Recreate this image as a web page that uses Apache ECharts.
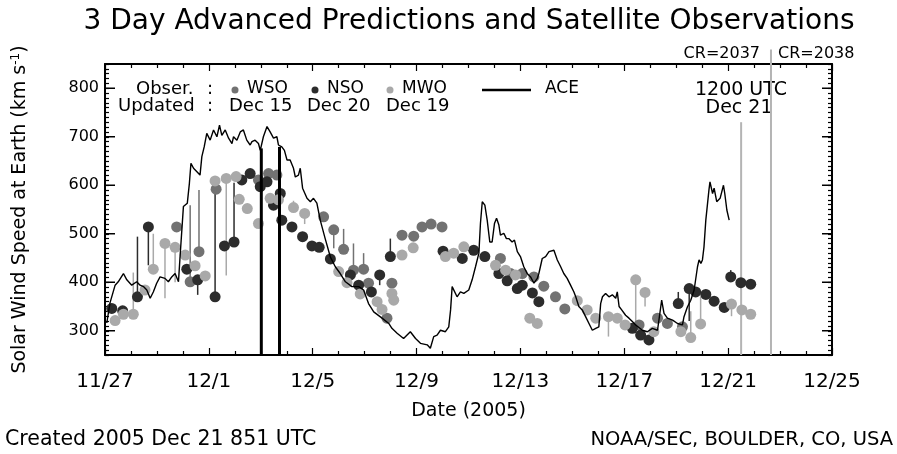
<!DOCTYPE html>
<html>
<head>
<meta charset="utf-8">
<script src="https://cdn.jsdelivr.net/npm/echarts@6/dist/echarts.min.js"></script>
<style>
  html, body { margin: 0; padding: 0; background: #fff; }
  #chart { width: 897px; height: 454px; }
</style>
</head>
<body>
<div id="chart"></div>
<script>
// Days are counted from 2005-11-27 00 UT.
const xTickLabels = ['11/27', '12/1', '12/5', '12/9', '12/13', '12/17', '12/21', '12/25'];
const yTickValues = [300, 400, 500, 600, 700, 800];

// ACE solar wind speed (km/s)
const aceSpeed = [
  [0.07,316],[0.19,357],[0.39,394],[0.51,401],[0.71,418],[0.84,405],[1.03,394],[1.22,401],
  [1.35,394],[1.48,391],[1.61,384],[1.74,367],[1.86,380],[1.99,398],[2.12,411],[2.31,408],
  [2.44,401],[2.57,411],[2.70,418],[2.83,401],[2.89,452],[3.02,556],[3.17,563],[3.25,604],
  [3.31,645],[3.41,635],[3.54,628],[3.66,621],[3.73,659],[3.82,679],[3.92,707],[4.05,693],
  [4.18,714],[4.31,700],[4.41,724],[4.50,703],[4.63,714],[4.76,697],[4.89,686],[4.95,700],
  [5.08,693],[5.21,710],[5.33,714],[5.46,693],[5.59,683],[5.66,690],[5.78,693],[5.91,686],
  [5.98,672],[6.10,700],[6.24,721],[6.36,710],[6.49,697],[6.62,700],[6.68,683],[6.81,679],
  [6.91,672],[7.01,652],[7.13,652],[7.26,635],[7.33,617],[7.45,621],[7.52,635],[7.61,594],
  [7.78,573],[7.91,566],[8.03,573],[8.16,563],[8.29,528],[8.48,490],[8.68,452],[8.87,432],
  [9.06,418],[9.26,401],[9.51,391],[9.77,391],[9.96,384],[10.15,356],[10.35,339],[10.67,326],
  [10.93,315],[11.05,305],[11.25,295],[11.50,284],[11.76,298],[11.96,284],[12.15,274],[12.41,271],
  [12.53,264],[12.66,288],[12.79,291],[12.92,301],[13.11,298],[13.24,308],[13.31,343],[13.37,391],
  [13.43,394],[13.56,370],[13.69,380],[13.82,377],[14.01,384],[14.14,405],[14.27,432],[14.40,460],
  [14.46,521],[14.53,566],[14.63,559],[14.72,528],[14.82,483],[14.91,483],[15.00,521],[15.08,532],
  [15.17,518],[15.23,497],[15.36,501],[15.46,490],[15.55,490],[15.68,483],[15.77,487],[15.88,463],
  [16.00,453],[16.13,432],[16.26,418],[16.39,411],[16.52,398],[16.65,408],[16.71,418],[16.84,449],
  [16.97,453],[17.10,463],[17.29,466],[17.42,446],[17.55,432],[17.67,418],[17.80,408],[17.93,394],
  [18.06,380],[18.13,370],[18.25,350],[18.38,343],[18.51,329],[18.64,315],[18.77,301],[18.90,305],
  [19.02,308],[19.09,356],[19.16,370],[19.28,377],[19.41,370],[19.54,374],[19.67,367],[19.73,380],
  [19.80,350],[19.90,343],[20.05,332],[20.18,326],[20.31,319],[20.44,312],[20.70,301],[20.89,298],
  [21.08,305],[21.28,301],[21.44,363],[21.53,336],[21.66,326],[21.86,322],[22.05,315],[22.24,312],
  [22.30,329],[22.43,349],[22.56,363],[22.69,384],[22.82,432],[22.88,446],[22.95,439],[23.01,446],
  [23.07,473],[23.14,528],[23.20,559],[23.26,590],[23.30,607],[23.40,583],[23.46,594],[23.56,566],
  [23.69,573],[23.82,600],[23.87,583],[23.95,549],[24.04,528]
];

// Model predictions driven by each observatory's magnetograms
const wsoPred = [
  [2.76,514],[3.28,401],[3.62,463],[4.28,592],[5.91,611],[6.30,624],[6.62,621],[8.42,535],
  [8.81,508],[9.19,468],[9.57,425],[9.96,427],[10.15,398],[10.86,326],[11.05,398],[11.44,497],
  [11.89,495],[12.21,514],[12.56,520],[12.98,514],[15.23,449],[15.62,418],[16.07,418],[16.52,411],
  [16.90,392],[17.35,370],[17.71,345],[20.57,312],[21.28,326],[21.66,315],[22.24,308]
];
const nsoPred = [
  [0.26,346],[0.68,341],[1.25,370],[1.67,514],[3.15,427],[3.57,405],[4.24,370],[4.60,475],
  [4.97,483],[5.27,611],[5.59,624],[5.98,597],[6.24,607],[6.49,559],[6.75,583],[6.81,528],
  [7.20,514],[7.61,494],[7.97,475],[8.25,472],[8.68,448],[9.45,415],[9.77,394],[10.26,380],
  [10.58,415],[10.99,453],[13.02,464],[13.76,449],[14.20,466],[14.63,453],[15.17,418],[15.49,403],
  [15.88,387],[16.07,394],[16.46,378],[16.71,360],[20.31,305],[20.63,291],[20.95,281],[22.08,356],
  [22.50,387],[22.75,380],[23.14,375],[23.46,361],[23.85,348],[24.10,411],[24.49,399],[24.87,396]
];
const mwoPred = [
  [0.39,321],[0.71,334],[1.09,334],[1.54,384],[1.86,427],[2.31,480],[2.70,472],[3.09,456],
  [3.47,434],[3.86,413],[4.24,609],[4.67,614],[5.05,618],[5.17,571],[5.48,552],[5.91,521],
  [6.36,573],[6.68,570],[7.26,554],[7.69,542],[9.00,422],[9.32,399],[9.83,376],[10.48,360],
  [10.67,344],[11.05,377],[11.12,363],[11.44,456],[11.87,471],[13.11,453],[13.43,460],[13.82,473],
  [15.04,435],[15.43,425],[15.81,415],[16.36,326],[16.65,315],[18.19,362],[18.57,343],[18.90,326],
  [19.39,329],[19.73,326],[20.03,312],[20.44,405],[20.80,379],[21.14,298],[22.18,298],[22.56,286],
  [22.94,314],[24.13,355],[24.53,343],[24.87,334]
];

// Vertical spread lines: [day, from, to]
const wsoSpread = [
  [3.28,401,559],[3.62,463,590],[8.81,508,470],[9.19,468,510],[9.57,425,480],[9.96,427,460]
];
const nsoSpread = [
  [1.25,370,494],[1.67,514,435],[3.57,405,374],[4.24,370,590],[4.97,483,605],[9.45,415,394],
  [10.58,415,394],[10.99,453,490],[22.08,356,380],[22.50,387,320],[24.10,411,425]
];
const mwoSpread = [
  [1.09,334,420],[1.86,427,500],[2.31,480,367],[2.70,472,400],[4.67,614,414],[7.26,554,568],
  [7.69,542,520],[19.39,329,288],[20.44,405,315],[20.80,379,350],[22.56,286,340],[22.94,314,370],
  [24.13,355,330]
];

// Heavy event markers: [day, top speed]
const eventMarks = [[6.02,676],[6.72,679]];
// Reference times: 1200 UT Dec 21 and the Carrington rotation boundary
const refLines = [[24.5, 730], [25.65, 880]];

const C_WSO = '#727272', C_NSO = '#2c2c2c', C_MWO = '#a9a9a9';
const FONT = 'DejaVu Sans';

function spreadRenderer(color) {
  return function (params, api) {
    const p0 = api.coord([api.value(0), api.value(1)]);
    const p1 = api.coord([api.value(0), api.value(2)]);
    return { type: 'line', shape: { x1: p0[0], y1: p0[1], x2: p1[0], y2: p1[1] },
             style: { stroke: color, lineWidth: 1.5 } };
  };
}

function label(text, x, y, size, align) {
  return { type: 'text', x: x, y: y,
           style: { text: text, font: size + 'px ' + FONT, fill: '#000',
                    align: align || 'left', verticalAlign: 'middle' } };
}

const chart = echarts.init(document.getElementById('chart'), null, { renderer: 'canvas' });

const baseX = {
  type: 'value', min: 0, max: 28, interval: 4,
  axisLine: { show: true, onZero: false, lineStyle: { color: '#000', width: 2 } },
  axisTick: { show: true, inside: true, length: 7, lineStyle: { color: '#000', width: 1.2 } },
  minorTick: { show: true, splitNumber: 4, length: 4, lineStyle: { color: '#000', width: 1.2 } },
  splitLine: { show: false }
};
const baseY = {
  type: 'value', min: 250, max: 850, interval: 10,
  axisLine: { show: true, onZero: false, lineStyle: { color: '#000', width: 2 } },
  axisTick: { show: true, inside: true, length: 4, lineStyle: { color: '#000', width: 1.2 } },
  splitLine: { show: false }
};

const option = {
  backgroundColor: '#fff',
  animation: false,
  grid: { left: 105, right: 65, top: 64, bottom: 99 },
  xAxis: [
    Object.assign({}, baseX, {
      position: 'bottom',
      name: 'Date (2005)', nameLocation: 'middle', nameGap: 47,
      nameTextStyle: { fontFamily: FONT, fontSize: 19, color: '#000' },
      axisLabel: { margin: 17, fontFamily: FONT, fontSize: 20, color: '#000',
        formatter: v => xTickLabels[Math.round(v / 4)] }
    }),
    Object.assign({}, baseX, { position: 'top', axisLabel: { show: false } })
  ],
  yAxis: [
    Object.assign({}, baseY, {
      position: 'left',
      name: 'Solar Wind Speed at Earth (km s{sup|-1})',
      nameLocation: 'middle', nameGap: 74, nameRotate: 90,
      nameTextStyle: { fontFamily: FONT, fontSize: 19, color: '#000',
        rich: { sup: { fontFamily: FONT, fontSize: 12, color: '#000', verticalAlign: 'top', padding: [0, 0, 9, 0] } } },
      axisLabel: { margin: 6, fontFamily: FONT, fontSize: 16, color: '#000',
        formatter: v => (yTickValues.indexOf(v) >= 0 ? String(v) : '') }
    }),
    Object.assign({}, baseY, { position: 'right', axisLabel: { show: false } })
  ],
  series: [
    // long ticks at the labelled speeds, both sides
    {
      type: 'custom', silent: true, z: 5, clip: false,
      data: yTickValues.map(v => [v]),
      renderItem: (params, api) => {
        const l = api.coord([0, api.value(0)]);
        const r = api.coord([28, api.value(0)]);
        return { type: 'group', children: [
          { type: 'line', shape: { x1: l[0], y1: l[1], x2: l[0] + 10, y2: l[1] }, style: { stroke: '#000', lineWidth: 1.5 } },
          { type: 'line', shape: { x1: r[0], y1: r[1], x2: r[0] - 10, y2: r[1] }, style: { stroke: '#000', lineWidth: 1.5 } }
        ] };
      }
    },
    // reference time lines
    {
      type: 'custom', silent: true, z: 1, clip: false,
      data: refLines,
      renderItem: (params, api) => {
        const t = api.coord([api.value(0), api.value(1)]);
        const b = api.coord([api.value(0), 250]);
        return { type: 'line', shape: { x1: t[0], y1: t[1], x2: b[0], y2: b[1] },
                 style: { stroke: '#b4b4b4', lineWidth: 2 } };
      }
    },
    { type: 'custom', silent: true, z: 2, data: wsoSpread, renderItem: spreadRenderer(C_WSO) },
    { type: 'custom', silent: true, z: 2, data: nsoSpread, renderItem: spreadRenderer(C_NSO) },
    { type: 'custom', silent: true, z: 2, data: mwoSpread, renderItem: spreadRenderer(C_MWO) },
    { name: 'WSO', type: 'scatter', z: 3, data: wsoPred, symbol: 'circle', symbolSize: 11,
      itemStyle: { color: C_WSO, opacity: 1 } },
    { name: 'NSO', type: 'scatter', z: 3, data: nsoPred, symbol: 'circle', symbolSize: 11,
      itemStyle: { color: C_NSO, opacity: 1 } },
    { name: 'MWO', type: 'scatter', z: 3, data: mwoPred, symbol: 'circle', symbolSize: 11,
      itemStyle: { color: C_MWO, opacity: 1 } },
    { name: 'ACE', type: 'line', z: 4, data: aceSpeed, symbol: 'none',
      lineStyle: { color: '#000', width: 1.4 } },
    // event markers
    {
      type: 'custom', silent: true, z: 6,
      data: eventMarks,
      renderItem: (params, api) => {
        const t = api.coord([api.value(0), api.value(1)]);
        const b = api.coord([api.value(0), 250]);
        return { type: 'line', shape: { x1: t[0], y1: t[1], x2: b[0], y2: b[1] },
                 style: { stroke: '#000', lineWidth: 3 } };
      }
    }
  ],
  graphic: [
    { type: 'text', x: 469, y: 22,
      style: { text: '3 Day Advanced Predictions and Satellite Observations', font: '28px ' + FONT, fill: '#000',
               align: 'center', verticalAlign: 'middle' } },
    label('CR=2037', 760, 54, 16, 'right'),
    label('CR=2038', 778, 54, 16),
    label('1200 UTC', 741, 90, 19, 'center'),
    label('Dec 21', 739, 108, 19, 'center'),
    // key
    label('Obser.', 136, 89, 18),
    label(':', 207, 89, 18),
    { type: 'circle', shape: { cx: 235, cy: 90, r: 3.5 }, style: { fill: C_WSO } },
    label('WSO', 247, 89, 17),
    { type: 'circle', shape: { cx: 315, cy: 90, r: 3.5 }, style: { fill: C_NSO } },
    label('NSO', 327, 89, 17),
    { type: 'circle', shape: { cx: 390, cy: 90, r: 3.5 }, style: { fill: C_MWO } },
    label('MWO', 402, 89, 17),
    { type: 'line', shape: { x1: 482, y1: 90, x2: 531, y2: 90 }, style: { stroke: '#000', lineWidth: 2.5 } },
    label('ACE', 545, 89, 17),
    label('Updated', 118, 106, 18),
    label(':', 207, 106, 18),
    label('Dec 15', 229, 106, 18),
    label('Dec 20', 307, 106, 18),
    label('Dec 19', 386, 106, 18),
    // footer
    label('Created 2005 Dec 21 851 UTC', 5, 440, 20.5),
    label('NOAA/SEC, BOULDER, CO, USA', 893, 440, 19.5, 'right')
  ]
};

chart.setOption(option);
</script>
</body>
</html>
